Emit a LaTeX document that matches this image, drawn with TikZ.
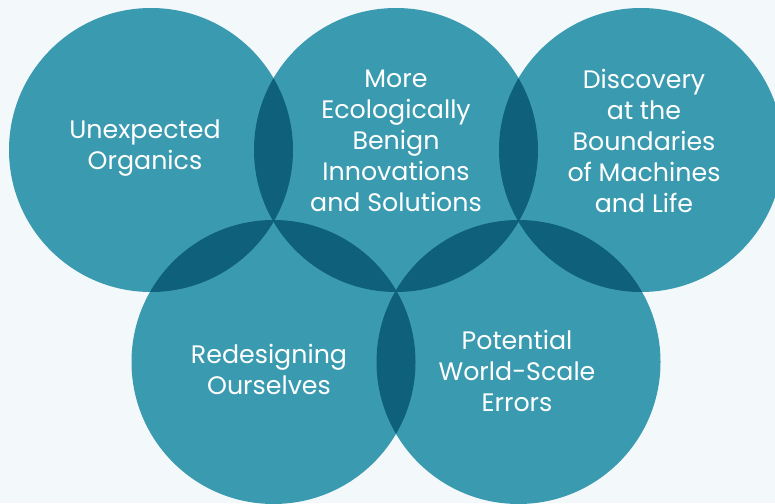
\documentclass[tikz,border=0pt]{standalone}
\usepackage{fontspec}
\setmainfont{Poppins}
\definecolor{bgc}{HTML}{F3F8FB}
\definecolor{teal}{HTML}{3A9BB0}
\definecolor{deep}{HTML}{0F607A}
\begin{document}
\begin{tikzpicture}[x=1pt,y=-1pt,
  lbl/.style={text=white,align=center,font=\fontsize{25.3}{31}\selectfont,inner sep=0pt}]
\fill[bgc] (0,0) rectangle (775,503);
\useasboundingbox (0,0) rectangle (775,503);
\begin{scope}
\clip (0,0) rectangle (775,503);
\def\R{142}
\coordinate (tl) at (151,150);
\coordinate (tm) at (396,150);
\coordinate (tr) at (641,150);
\coordinate (bl) at (273.5,362);
\coordinate (br) at (518.5,362);
\foreach \c in {tl,tm,tr,bl,br}{\fill[teal] (\c) circle (\R);}
\foreach \a/\b in {tl/tm,tm/tr,tl/bl,tm/bl,tm/br,tr/br,bl/br}{
  \begin{scope}\clip (\a) circle (\R); \fill[deep] (\b) circle (\R);\end{scope}}
\end{scope}
\node[lbl] (t1) at (145,148.5) {Unexpected\\Organics};
\node[lbl] (t2) at (396,141) {More\\Ecologically\\Benign\\Innovations\\and Solutions};
\node[lbl] (t3) at (644,141) {Discovery\\at the\\Boundaries\\of Machines\\and Life};
\node[lbl] (t4) at (269,369) {Redesigning\\Ourselves};
\node[lbl] (t5) at (517,371) {Potential\\World-Scale\\Errors};
\end{tikzpicture}
\end{document}
